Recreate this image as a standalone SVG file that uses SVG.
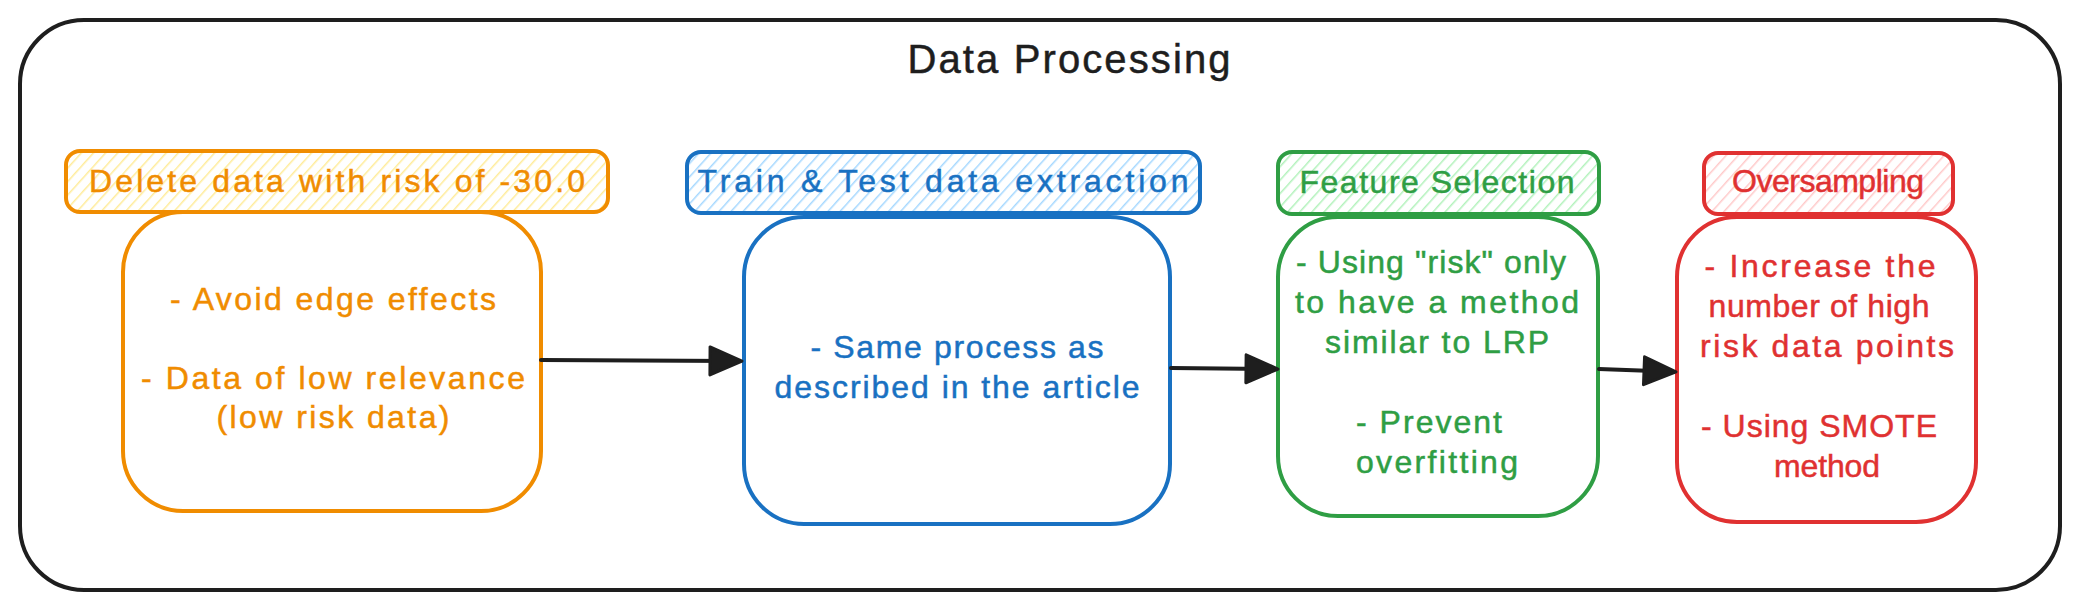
<svg xmlns="http://www.w3.org/2000/svg" width="2079" height="611" viewBox="0 0 2079 611">
  <style>
    .t { font-family: "Liberation Sans", Arial, sans-serif; font-size: 32px; text-anchor: middle; stroke-width: 0.5; }
    .title { font-family: "Liberation Sans", Arial, sans-serif; font-size: 40px; text-anchor: middle; fill: #1e1e1e; stroke: #1e1e1e; stroke-width: 0.5; }
    .box { stroke-width: 4; stroke-linejoin: round; }
    .frame { fill: #ffffff; stroke: #1e1e1e; stroke-width: 4; }
    .conn { fill: none; stroke: #1e1e1e; stroke-width: 4; stroke-linecap: round; }
    .orange { stroke: #f08c00; } .orange-t { fill: #f08c00; stroke: #f08c00; }
    .blue { stroke: #1971c2; } .blue-t { fill: #1971c2; stroke: #1971c2; }
    .green { stroke: #2f9e44; } .green-t { fill: #2f9e44; stroke: #2f9e44; }
    .red { stroke: #e03131; } .red-t { fill: #e03131; stroke: #e03131; }
  </style>
  <defs>
    <pattern id="hOrange" width="9" height="9" patternUnits="userSpaceOnUse" patternTransform="rotate(42)">
      <rect width="9" height="9" fill="#ffffff"/><line x1="0" y1="0" x2="0" y2="9" stroke="#ffec99" stroke-width="3"/>
    </pattern>
    <pattern id="hBlue" width="9" height="9" patternUnits="userSpaceOnUse" patternTransform="rotate(42)">
      <rect width="9" height="9" fill="#ffffff"/><line x1="0" y1="0" x2="0" y2="9" stroke="#a5d8ff" stroke-width="3"/>
    </pattern>
    <pattern id="hGreen" width="9" height="9" patternUnits="userSpaceOnUse" patternTransform="rotate(42)">
      <rect width="9" height="9" fill="#ffffff"/><line x1="0" y1="0" x2="0" y2="9" stroke="#b2f2bb" stroke-width="3"/>
    </pattern>
    <pattern id="hRed" width="9" height="9" patternUnits="userSpaceOnUse" patternTransform="rotate(42)">
      <rect width="9" height="9" fill="#ffffff"/><line x1="0" y1="0" x2="0" y2="9" stroke="#ffc9c9" stroke-width="3"/>
    </pattern>
    <marker id="arrow" markerUnits="userSpaceOnUse" viewBox="0 0 36 32" refX="25" refY="16" markerWidth="36" markerHeight="32" orient="auto">
      <path d="M2,2 L34,16 L2,30 Z" fill="#1e1e1e" stroke="#1e1e1e" stroke-width="3" stroke-linejoin="round"/>
    </marker>
  </defs>

  <rect width="2079" height="611" fill="#ffffff"/>

  <g id="frame">
    <rect class="frame" x="20" y="20" width="2040" height="570" rx="64"/>
    <text class="title" x="1069" y="73" textLength="323" lengthAdjust="spacing">Data Processing</text>
  </g>

  <g id="node-delete-header">
    <rect class="box orange" x="66" y="151" width="542" height="61" rx="14" fill="url(#hOrange)"/>
    <text class="t orange-t" x="337" y="192" textLength="496" lengthAdjust="spacing">Delete data with risk of -30.0</text>
  </g>
  <g id="node-delete-body">
    <rect class="box orange" x="123" y="212" width="418" height="299" rx="60" fill="#ffffff"/>
    <text class="t orange-t" x="333" y="310" textLength="326" lengthAdjust="spacing">- Avoid edge effects</text>
    <text class="t orange-t" x="333" y="389" textLength="384" lengthAdjust="spacing">- Data of low relevance</text>
    <text class="t orange-t" x="333" y="428" textLength="233" lengthAdjust="spacing">(low risk data)</text>
  </g>

  <g id="node-train-header">
    <rect class="box blue" x="687" y="152" width="513" height="61" rx="14" fill="url(#hBlue)"/>
    <text class="t blue-t" x="943" y="192" textLength="491" lengthAdjust="spacing">Train &amp; Test data extraction</text>
  </g>
  <g id="node-train-body">
    <rect class="box blue" x="744" y="217" width="426" height="307" rx="60" fill="#ffffff"/>
    <text class="t blue-t" x="957" y="358" textLength="293" lengthAdjust="spacing">- Same process as</text>
    <text class="t blue-t" x="957" y="398" textLength="365" lengthAdjust="spacing">described in the article</text>
  </g>

  <g id="node-feature-header">
    <rect class="box green" x="1278" y="152" width="321" height="62" rx="14" fill="url(#hGreen)"/>
    <text class="t green-t" x="1437" y="193" textLength="275" lengthAdjust="spacing">Feature Selection</text>
  </g>
  <g id="node-feature-body">
    <rect class="box green" x="1278" y="217" width="320" height="299" rx="60" fill="#ffffff"/>
    <text class="t green-t" x="1431" y="273" textLength="270" lengthAdjust="spacing">- Using "risk" only</text>
    <text class="t green-t" x="1437" y="313" textLength="284" lengthAdjust="spacing">to have a method</text>
    <text class="t green-t" x="1437" y="353" textLength="224" lengthAdjust="spacing">similar to LRP</text>
    <text class="t green-t" x="1429" y="433" textLength="146" lengthAdjust="spacing">- Prevent</text>
    <text class="t green-t" x="1437" y="473" textLength="162" lengthAdjust="spacing">overfitting</text>
  </g>

  <g id="node-oversampling-header">
    <rect class="box red" x="1704" y="153" width="249" height="61" rx="14" fill="url(#hRed)"/>
    <text class="t red-t" x="1828" y="192" textLength="192" lengthAdjust="spacing">Oversampling</text>
  </g>
  <g id="node-oversampling-body">
    <rect class="box red" x="1677" y="217" width="299" height="305" rx="60" fill="#ffffff"/>
    <text class="t red-t" x="1820" y="277" textLength="231" lengthAdjust="spacing">- Increase the</text>
    <text class="t red-t" x="1819" y="317" textLength="221" lengthAdjust="spacing">number of high</text>
    <text class="t red-t" x="1827" y="357" textLength="254" lengthAdjust="spacing">risk data points</text>
    <text class="t red-t" x="1819" y="437" textLength="236" lengthAdjust="spacing">- Using SMOTE</text>
    <text class="t red-t" x="1827" y="477" textLength="106" lengthAdjust="spacing">method</text>
  </g>

  <g id="connectors">
    <path class="conn" d="M541,360 L733,361" marker-end="url(#arrow)"/>
    <path class="conn" d="M1171,368 L1269,369" marker-end="url(#arrow)"/>
    <path class="conn" d="M1599,369 L1667,371.6" marker-end="url(#arrow)"/>
  </g>
</svg>
